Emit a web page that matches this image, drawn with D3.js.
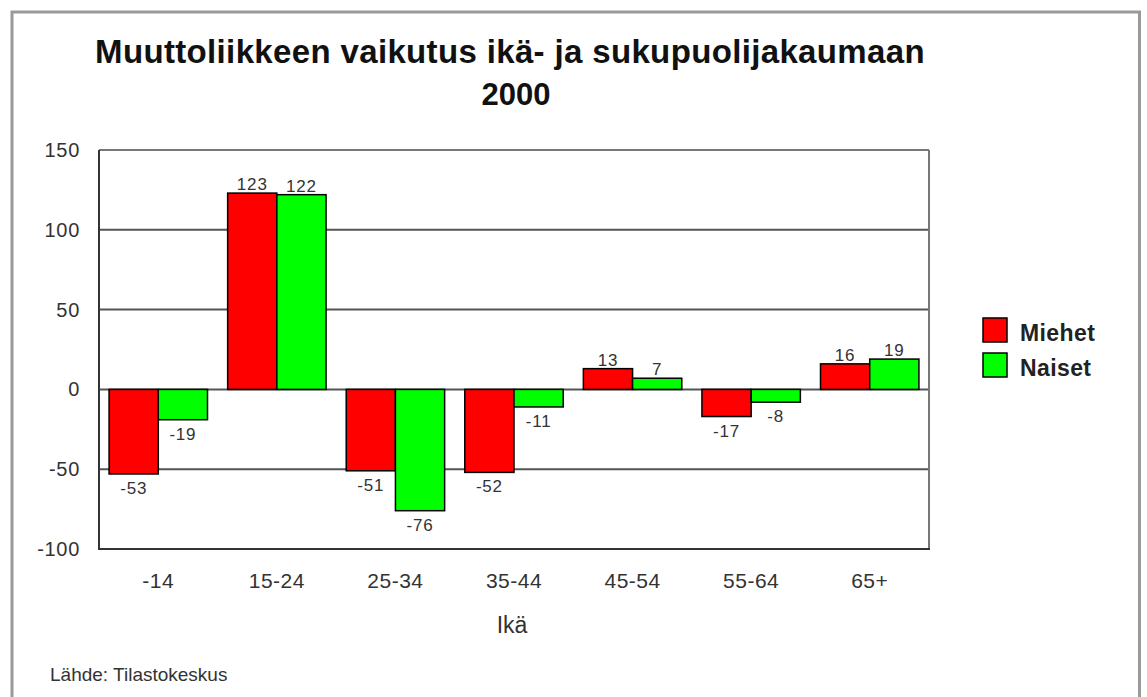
<!DOCTYPE html>
<html>
<head>
<meta charset="utf-8">
<script src="https://cdn.jsdelivr.net/npm/d3@7"></script>
<style>
  html, body { margin: 0; padding: 0; background: #fff; }
  svg { display: block; }
  text { font-family: "Liberation Sans", Arial, sans-serif; }
</style>
</head>
<body>
<svg id="chart" width="1147" height="697"></svg>
<script>
const categories = ["-14", "15-24", "25-34", "35-44", "45-54", "55-64", "65+"];
const seriesNames = ["Miehet", "Naiset"];
const miehet = [-53, 123, -51, -52, 13, -17, 16];
const naiset = [-19, 122, -76, -11, 7, -8, 19];
const yTicks = [150, 100, 50, 0, -50, -100];
const colors = ["#ff0000", "#00ff00"];
const titleLines = ["Muuttoliikkeen vaikutus ikä- ja sukupuolijakaumaan", "2000"];
const xTitle = "Ikä";
const source = "Lähde: Tilastokeskus";

const svg = d3.select("#chart");
const plot = { left: 99, right: 929, top: 150, bottom: 549 };

// outer frame
svg.append("rect").attr("x", 12).attr("y", 12).attr("width", 1127.5).attr("height", 700)
  .attr("fill", "#fff").attr("stroke", "#9a9a9a").attr("stroke-width", 3);

const x0 = d3.scaleBand().domain(categories).range([plot.left, plot.right])
  .paddingInner(0.17).paddingOuter(0.085);
const x1 = d3.scaleBand().domain(seriesNames).range([0, x0.bandwidth()]);
const y = d3.scaleLinear().domain([-100, 150]).range([plot.bottom, plot.top]);

// gridlines
svg.append("g").selectAll("line").data(yTicks.filter(t => t !== 150 && t !== -100)).join("line")
  .attr("x1", plot.left).attr("x2", plot.right)
  .attr("y1", d => y(d)).attr("y2", d => y(d))
  .attr("stroke", "#555").attr("stroke-width", 2);

// plot frame
svg.append("line").attr("x1", plot.left).attr("x2", plot.right).attr("y1", plot.top).attr("y2", plot.top)
  .attr("stroke", "#777").attr("stroke-width", 2);
svg.append("line").attr("x1", plot.right).attr("x2", plot.right).attr("y1", plot.top).attr("y2", plot.bottom)
  .attr("stroke", "#777").attr("stroke-width", 2);
svg.append("line").attr("x1", plot.left).attr("x2", plot.left).attr("y1", plot.top).attr("y2", plot.bottom + 1)
  .attr("stroke", "#333").attr("stroke-width", 2);
svg.append("line").attr("x1", plot.left).attr("x2", plot.right + 1).attr("y1", plot.bottom).attr("y2", plot.bottom)
  .attr("stroke", "#333").attr("stroke-width", 2);

// y axis labels
const yAxis = d3.axisLeft(y).tickValues(yTicks).tickFormat(d => String(d)).tickSize(0).tickPadding(19);
const gy = svg.append("g").attr("transform", `translate(${plot.left},0)`).call(yAxis);
gy.select(".domain").remove();
gy.selectAll("text").attr("font-size", 20).attr("fill", "#333")
  .attr("font-family", "'Liberation Sans', Arial, sans-serif").style("letter-spacing", "0.7px");

// x axis labels
const xAxis = d3.axisBottom(x0).tickSize(0).tickPadding(24);
const gx = svg.append("g").attr("transform", `translate(0,${plot.bottom})`).call(xAxis);
gx.select(".domain").remove();
gx.selectAll("text").attr("font-size", 21).attr("fill", "#333")
  .attr("font-family", "'Liberation Sans', Arial, sans-serif").style("letter-spacing", "0.5px");

// bars
const rows = categories.map((c, i) => ({ cat: c, vals: [miehet[i], naiset[i]] }));
const groups = svg.append("g").selectAll("g").data(rows).join("g")
  .attr("transform", d => `translate(${x0(d.cat)},0)`);
const bars = groups.selectAll("g").data(d => d.vals.map((v, j) => ({ key: seriesNames[j], v, j }))).join("g");
bars.append("rect")
  .attr("x", d => x1(d.key)).attr("width", x1.bandwidth())
  .attr("y", d => y(Math.max(0, d.v))).attr("height", d => Math.abs(y(d.v) - y(0)))
  .attr("fill", d => colors[d.j]).attr("stroke", "#000").attr("stroke-width", 1.5);
bars.append("text")
  .attr("x", d => x1(d.key) + x1.bandwidth() / 2)
  .attr("y", d => d.v >= 0 ? y(d.v) - 3 : y(d.v) + 20)
  .attr("text-anchor", "middle").attr("font-size", 17).attr("fill", "#333")
  .style("letter-spacing", "0.8px")
  .text(d => String(d.v));

// title
svg.append("text").attr("x", 510).attr("y", 63).attr("text-anchor", "middle")
  .attr("font-size", 33).attr("font-weight", "bold").attr("fill", "#111")
  .style("letter-spacing", "0.35px").text(titleLines[0]);
svg.append("text").attr("x", 516).attr("y", 105).attr("text-anchor", "middle")
  .attr("font-size", 31).attr("font-weight", "bold").attr("fill", "#111")
  .text(titleLines[1]);

// x title
svg.append("text").attr("x", 512).attr("y", 633).attr("text-anchor", "middle")
  .attr("font-size", 23).attr("fill", "#333").text(xTitle);

// legend
const lg = svg.append("g").selectAll("g").data(seriesNames).join("g")
  .attr("transform", (d, i) => `translate(983,${318 + i * 35})`);
lg.append("rect").attr("width", 24).attr("height", 24)
  .attr("fill", (d, i) => colors[i]).attr("stroke", "#000").attr("stroke-width", 1.5);
lg.append("text").attr("x", 37).attr("y", 23).attr("font-size", 23).attr("font-weight", "bold")
  .attr("fill", "#222").style("letter-spacing", "0.4px").text(d => d);

// source
svg.append("text").attr("x", 50).attr("y", 681).attr("font-size", 19).attr("fill", "#333")
  .text(source);
</script>
</body>
</html>
